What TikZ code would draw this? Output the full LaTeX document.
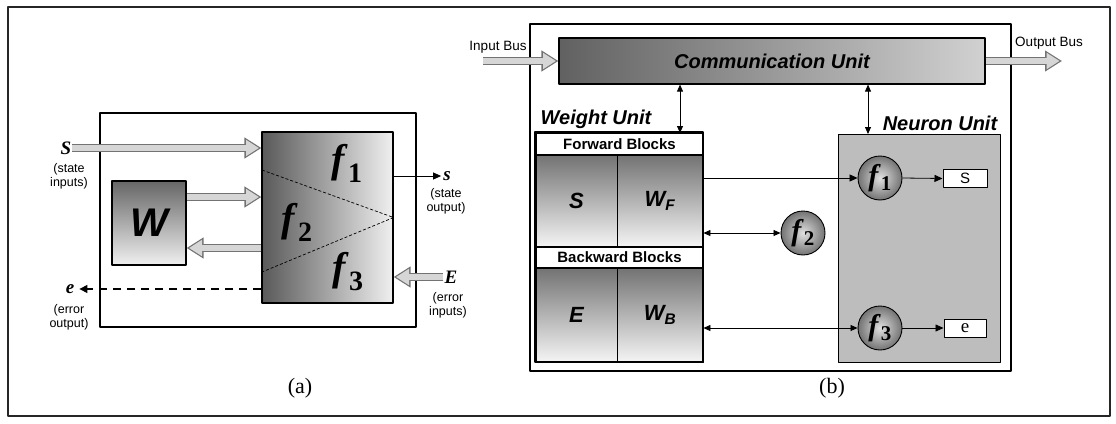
\documentclass[tikz,border=0pt]{standalone}
\usepackage{fontspec}
\setmainfont{Liberation Serif}
\setsansfont{Liberation Sans}
\usetikzlibrary{arrows.meta}

\newcommand{\ffun}[1]{\textbf{\textit{f}}\textsubscript{\textbf{#1}}}

\tikzset{
  box/.style={draw, inner sep=0pt, line width=1.8pt},
  fat/.style={line width=8.5pt, draw=black!55, -{Triangle[length=17pt, width=20pt]},
    postaction={draw=black!16, line width=6pt, shorten >=2.4pt,
      -{Triangle[length=13pt, width=15.5pt]}}},
  thinarr/.style={line width=0.8pt, -{Triangle[length=8pt, width=7pt]}},
  dbl/.style={line width=0.8pt, {Triangle[length=7pt, width=6pt]}-{Triangle[length=7pt, width=6pt]}},
  note/.style={font=\sffamily\fontsize{12.5}{14}\selectfont, align=center, inner sep=0pt},
  lbl/.style={font=\bfseries\itshape\fontsize{19}{22}\selectfont, inner sep=1pt},
  ttl/.style={font=\sffamily\bfseries\itshape\fontsize{20}{24}\selectfont, inner sep=0pt},
  cell/.style={draw, line width=0.8pt, inner sep=0pt, top color=black!55, bottom color=black!4},
  hdr/.style={draw, line width=1.5pt, inner sep=0pt, fill=white, font=\sffamily\bfseries\fontsize{15}{17}\selectfont},
  fcirc/.style={circle, draw, line width=0.9pt, minimum size=44pt, inner sep=0pt,
    inner color=black!12, outer color=black!55, font=\fontsize{30}{32}\selectfont},
  captxt/.style={font=\fontsize{22}{24}\selectfont, inner sep=0pt}
}

\begin{document}
\begin{tikzpicture}[x=1pt, y=-1pt, line join=round]

  %% ════ 外框 ════
  \draw[line width=2.4pt, black!85] (8,7) rectangle (1110,416);

  %% ════ (a)：单个神经元模块 ════
  \node[box, minimum width=316pt, minimum height=214pt] (abox) at (258,220) {};
  \node[draw, line width=1.2pt, minimum width=131pt, minimum height=171pt, inner sep=0pt,
        left color=black!65, right color=black!6] (fblk) at (327.5,217.5) {};
  \node[draw, line width=1.2pt, minimum width=74pt, minimum height=84pt, inner sep=0pt,
        top color=black!60, bottom color=black!6,
        font=\sffamily\bfseries\itshape\fontsize{40}{44}\selectfont] (wbox) at (149,223) {W};

  % 三角分区（虚线）
  \coordinate (tA) at (262,170);
  \coordinate (tB) at (262,272);
  \draw[densely dashed, line width=0.7pt] (tA) -- (fblk.east) -- (tB);
  \node[font=\fontsize{40}{44}\selectfont] (fa1) at (347,163) {\ffun{1}};
  \node[font=\fontsize{40}{44}\selectfont] (fa2) at (297,222) {\ffun{2}};
  \node[font=\fontsize{40}{44}\selectfont] (fa3) at (348,272) {\ffun{3}};

  % 输入 / 输出
  \node[lbl] (inS) at (66,148) {S};
  \node[note] (nSi) at (69,176) {(state\\inputs)};
  \draw[fat] (inS.east) -- (inS -| fblk.west);

  \coordinate (yW1) at (0,197);
  \coordinate (yW2) at (0,248);
  \draw[fat] (wbox.east |- yW1) -- (fblk.west |- yW1);
  \draw[fat] (fblk.west |- yW2) -- (wbox.east |- yW2);

  \node[lbl] (outs) at (447,176) {s};
  \node[note] (nSo) at (446,201) {(state\\output)};
  \draw[thinarr, shorten >=1pt] (fblk.east |- outs) -- (outs.west);

  \node[lbl] (inE) at (451,277) {E};
  \node[note] (nEi) at (448,305) {(error\\inputs)};
  \draw[fat] (inE.west) -- (inE -| fblk.east);

  \node[lbl] (oute) at (70,289) {e};
  \node[note] (nEo) at (69,317) {(error\\output)};
  \draw[line width=1.2pt, dash pattern=on 8pt off 6pt, -{Triangle[length=8pt, width=8pt]},
        shorten >=4pt] (oute -| fblk.west) -- (oute.east);

  \node[captxt] (capa) at (300,388) {(a)};

  %% ════ (b)：模块结构 ════
  \node[box, minimum width=481pt, minimum height=347pt] (bbox) at (770.5,197.5) {};
  \node[draw, line width=1.2pt, minimum width=426pt, minimum height=46pt, inner sep=0pt,
        left color=black!62, right color=black!18,
        font=\sffamily\bfseries\itshape\fontsize{20}{24}\selectfont] (comm) at (772,61) {Communication Unit};

  \node[note, font=\sffamily\fontsize{13.5}{15}\selectfont] (inbus) at (498,47) {Input Bus};
  \coordinate (inbusS) at (483,61);
  \draw[fat] (inbusS) -- (inbusS -| comm.west);
  \node[note, font=\sffamily\fontsize{13.5}{15}\selectfont] (outbus) at (1049,43) {Output Bus};
  \coordinate (outbusE) at (1062,61);
  \draw[fat] (comm.east) -- (outbusE);

  % 权值单元
  \node[ttl] (wtitle) at (596,119) {Weight Unit};
  \node[hdr, minimum width=167pt, minimum height=22pt] (fwd) at (619.5,144) {Forward Blocks};
  \node[cell, minimum width=81pt, minimum height=92pt,
        font=\sffamily\bfseries\itshape\fontsize{22}{24}\selectfont] (cS) at (576.5,201) {S};
  \node[cell, minimum width=86pt, minimum height=92pt,
        font=\sffamily\bfseries\itshape\fontsize{22}{24}\selectfont] (cWF) at (660,201) {W\textsubscript{F}};
  \node[hdr, minimum width=167pt, minimum height=21pt] (bwd) at (619.5,257.5) {Backward Blocks};
  \node[cell, minimum width=81pt, minimum height=94pt,
        font=\sffamily\bfseries\itshape\fontsize{22}{24}\selectfont] (cE) at (576.5,315) {E};
  \node[cell, minimum width=86pt, minimum height=94pt,
        font=\sffamily\bfseries\itshape\fontsize{22}{24}\selectfont] (cWB) at (660,315) {W\textsubscript{B}};
  \draw[line width=2pt] (fwd.north west) rectangle (cWB.south east);

  % 神经元单元
  \node[ttl] (ntitle) at (940,123) {Neuron Unit};
  \node[draw, line width=1pt, minimum width=162pt, minimum height=228pt, inner sep=0pt,
        fill=black!26] (neu) at (919,248) {};
  \node[fcirc] (f1) at (880,178) {\ffun{1}};
  \node[fcirc] (f2) at (803,233) {\ffun{2}};
  \node[fcirc] (f3) at (880,328) {\ffun{3}};
  \node[draw, line width=1pt, fill=white, minimum width=44pt, minimum height=18pt, inner sep=0pt,
        font=\sffamily\fontsize{15}{16}\selectfont] (sb) at (965,178.5) {S};
  \node[draw, line width=1pt, fill=white, minimum width=42pt, minimum height=18pt, inner sep=0pt,
        font=\fontsize{19}{19}\selectfont] (eb) at (965,328) {e};

  % 连线
  \coordinate (wArr) at (680,133);
  \coordinate (nArr) at (868,134);
  \draw[dbl] (comm.south -| wArr) -- (wArr);
  \draw[dbl] (comm.south -| nArr) -- (nArr);
  \draw[thinarr] (cWF.east |- f1) -- (f1.west);
  \draw[thinarr] (f1.east) -- (sb.west);
  \draw[dbl] (cWF.east |- f2) -- (f2.west);
  \draw[dbl] (cWB.east |- f3) -- (f3.west);
  \draw[thinarr] (f3.east) -- (eb.west);

  \node[captxt] (capb) at (832,388) {(b)};

  % 钉死画布
  \pgfresetboundingbox
  \path[use as bounding box] (0,0) rectangle (1116,423);
\end{tikzpicture}
\end{document}
